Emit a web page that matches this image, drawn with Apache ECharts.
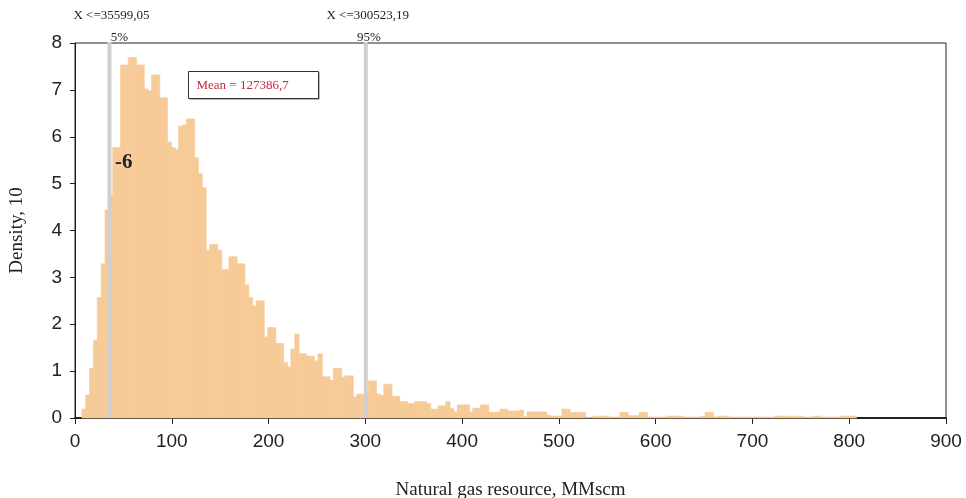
<!DOCTYPE html>
<html>
<head>
<meta charset="utf-8">
<script src="https://cdn.jsdelivr.net/npm/echarts@6/dist/echarts.min.js"></script>
<style>
  html, body { margin: 0; padding: 0; background: #ffffff; }
  #chart { width: 966px; height: 498px; }
</style>
</head>
<body>
<div id="chart"></div>
<script>
// ---------------- DATA ----------------
// Histogram bins: first bin lower edge and bin width (MMscm, thousands)
const BIN_START = 7;
const BIN_WIDTH = 4;
// Density (x 10^-6) per bin
const density = [
  0.19, 0.49, 1.06, 1.66, 2.57, 3.29, 4.44, 4.76, 5.77, 5.77,
  7.53, 7.53, 7.69, 7.69, 7.53, 7.53, 7.02, 6.98, 7.32, 7.32,
  6.83, 6.83, 5.89, 5.77, 5.73, 6.23, 6.25, 6.38, 6.38, 5.55,
  5.21, 4.91, 3.58, 3.70, 3.70, 3.58, 3.17, 3.17, 3.44, 3.44,
  3.29, 3.29, 2.84, 2.57, 2.39, 2.50, 2.50, 1.73, 1.93, 1.93,
  1.59, 1.59, 1.18, 1.09, 1.47, 1.79, 1.37, 1.37, 1.32, 1.32,
  1.22, 1.37, 0.88, 0.88, 0.80, 1.06, 1.06, 0.87, 0.90, 0.90,
  0.45, 0.51, 0.51, 0.51, 0.79, 0.79, 0.51, 0.48, 0.72, 0.72,
  0.46, 0.46, 0.35, 0.35, 0.31, 0.31, 0.35, 0.35, 0.35, 0.31,
  0.19, 0.19, 0.26, 0.26, 0.35, 0.20, 0.13, 0.28, 0.28, 0.28,
  0.13, 0.21, 0.21, 0.28, 0.28, 0.12, 0.12, 0.12, 0.19, 0.19,
  0.15, 0.15, 0.15, 0.17, 0.03, 0.13, 0.13, 0.13, 0.13, 0.13,
  0.06, 0.04, 0.04, 0.04, 0.19, 0.19, 0.12, 0.12, 0.12, 0.12,
  0.01, 0.01, 0.04, 0.04, 0.04, 0.04, 0.02, 0.02, 0.02, 0.12,
  0.12, 0.05, 0.05, 0.05, 0.12, 0.12, 0.02, 0.02, 0.02, 0.02,
  0.02, 0.04, 0.04, 0.04, 0.04, 0.02, 0.02, 0.02, 0.02, 0.02,
  0.04, 0.12, 0.12, 0.02, 0.04, 0.04, 0.04, 0.02, 0.02, 0.02,
  0.02, 0.02, 0.02, 0.02, 0.02, 0.02, 0.02, 0.02, 0.02, 0.04,
  0.04, 0.04, 0.04, 0.03, 0.04, 0.04, 0.02, 0.02, 0.02, 0.04,
  0.04, 0.02, 0.02, 0.02, 0.02, 0.02, 0.04, 0.04, 0.04, 0.04
];
// Percentile markers
const percentileValues = [35.59905, 300.52319];
const percentileTexts = ['X <=35599,05', 'X <=300523,19'];
const percentileProbs = ['5%', '95%'];
// Axis ranges
const xRange = [0, 900];
const xStep = 100;
const yRange = [0, 8];
const yStep = 1;
// Texts
const meanText = 'Mean = 127386,7';
const exponentText = '-6';
const xTitle = 'Natural gas resource, MMscm';
const yTitle = 'Density, 10';

// ---------------- STYLE / LAYOUT ----------------
const BAR_COLOR = '#F7CB98';
const SERIF = '"Liberation Serif", "DejaVu Serif", serif';
const SANS = '"Liberation Sans", Arial, sans-serif';
const probDx = [10, 3];

const binData = density.map((d, i) => [BIN_START + i * BIN_WIDTH, BIN_START + (i + 1) * BIN_WIDTH, d]);
const pctData = percentileValues.map((v, i) => [v, i]);

const chart = echarts.init(document.getElementById('chart'), null, { renderer: 'canvas' });

const option = {
  animation: false,
  backgroundColor: '#ffffff',
  grid: {
    left: 75, top: 43, right: 20, bottom: 80,
    outerBoundsMode: 'none', containLabel: false,
    show: true, borderColor: '#222', borderWidth: 1, backgroundColor: 'transparent'
  },
  xAxis: {
    type: 'value', min: xRange[0], max: xRange[1], interval: xStep,
    axisLine: { show: true, lineStyle: { color: '#222', width: 2 } },
    axisTick: { show: true, length: 6, lineStyle: { color: '#222' } },
    axisLabel: { color: '#222', fontFamily: SANS, fontSize: 19, margin: 14 },
    splitLine: { show: false },
    name: xTitle, nameLocation: 'middle', nameGap: 63,
    nameTextStyle: { color: '#222', fontFamily: SERIF, fontSize: 19 }
  },
  yAxis: {
    type: 'value', min: yRange[0], max: yRange[1], interval: yStep,
    axisLine: { show: true, lineStyle: { color: '#222', width: 1 } },
    axisTick: { show: true, length: 5, lineStyle: { color: '#222' } },
    axisLabel: { color: '#222', fontFamily: SANS, fontSize: 19, margin: 13 },
    splitLine: { show: false },
    name: yTitle, nameLocation: 'middle', nameGap: 48, nameRotate: 90,
    nameTextStyle: { color: '#222', fontFamily: SERIF, fontSize: 19 }
  },
  series: [
    {
      type: 'custom',
      data: binData,
      renderItem: function (params, api) {
        const p0 = api.coord([api.value(0), api.value(2)]);
        const p1 = api.coord([api.value(1), 0]);
        return {
          type: 'rect',
          shape: { x: p0[0], y: p0[1], width: p1[0] - p0[0] + 0.6, height: p1[1] - p0[1] },
          style: { fill: BAR_COLOR, stroke: BAR_COLOR, lineWidth: 0.6 }
        };
      },
      z: 2
    },
    {
      type: 'custom',
      data: pctData,
      clip: false,
      renderItem: function (params, api) {
        const i = api.value(1);
        const pb = api.coord([api.value(0), yRange[0]]);
        const pt = api.coord([api.value(0), yRange[1]]);
        return {
          type: 'group',
          children: [
            { type: 'line', shape: { x1: pb[0], y1: pb[1], x2: pt[0], y2: pt[1] - 1 }, style: { stroke: '#CFCFCF', lineWidth: 4 } },
            { type: 'text', style: { text: percentileProbs[i], x: pt[0] + probDx[i], y: pt[1] + 1, textAlign: 'center', textVerticalAlign: 'bottom', fill: '#222', font: '13px ' + SERIF } },
            { type: 'text', style: { text: percentileTexts[i], x: pt[0] + 2, y: pt[1] - 27, textAlign: 'center', textVerticalAlign: 'middle', fill: '#222', font: '13px ' + SERIF } }
          ]
        };
      },
      z: 3
    }
  ],
  graphic: [
    {
      type: 'group', left: 188, top: 71, z: 10,
      children: [
        { type: 'rect', shape: { x: 1, y: 1, width: 130, height: 27 }, style: { fill: '#777' } },
        { type: 'rect', shape: { x: 0, y: 0, width: 130, height: 27 }, style: { fill: '#fff', stroke: '#333', lineWidth: 1 } },
        { type: 'text', style: { text: meanText, x: 8, y: 14, textVerticalAlign: 'middle', fill: '#C4283E', font: '13px ' + SERIF } }
      ]
    },
    {
      type: 'text', left: 115, top: 152, z: 10,
      style: { text: exponentText, fill: '#222', font: 'bold 21px ' + SERIF }
    }
  ]
};
chart.setOption(option);
</script>
</body>
</html>
